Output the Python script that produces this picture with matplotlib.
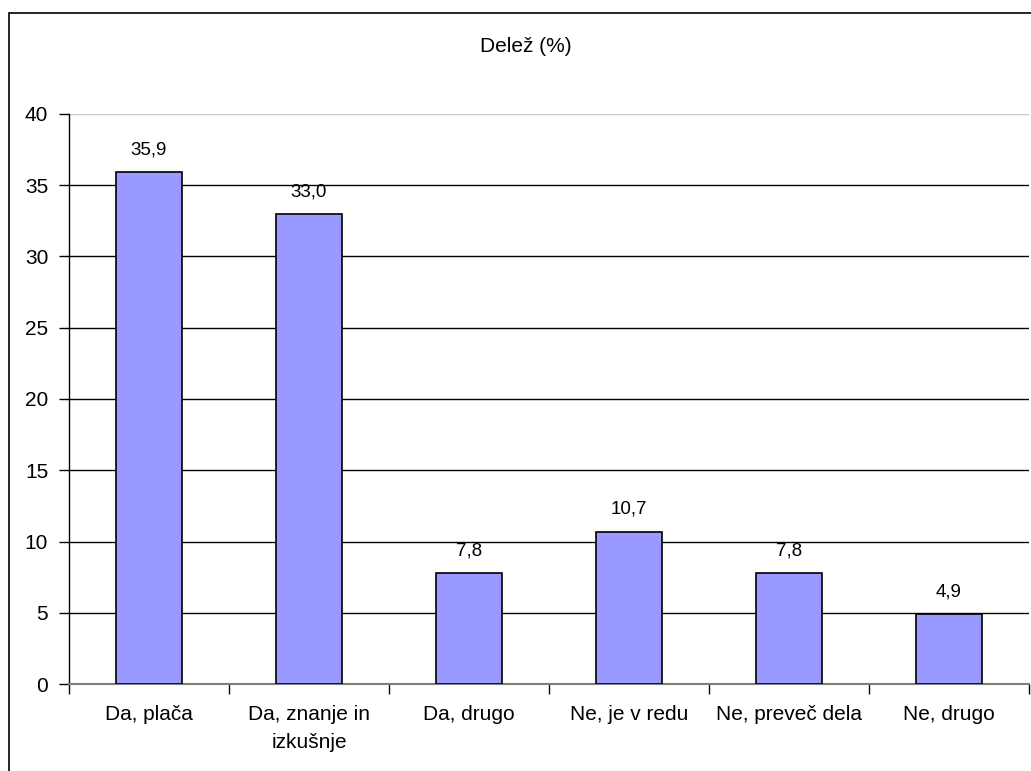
import matplotlib.pyplot as plt
from matplotlib.patches import Rectangle

plt.rcParams["font.family"] = ["Liberation Sans", "DejaVu Sans"]

categories = ["Da, plača", "Da, znanje in\nizkušnje", "Da, drugo",
              "Ne, je v redu", "Ne, preveč dela", "Ne, drugo"]
shares = [35.9, 33.0, 7.8, 10.7, 7.8, 4.9]
share_labels = ["35,9", "33,0", "7,8", "10,7", "7,8", "4,9"]

W, H = 1031, 771
fig = plt.figure(figsize=(W / 100, H / 100), dpi=100)

# outer chart frame, open past the right and bottom edges
fig.patches.append(Rectangle((9 / W, -0.1), 1.2, 1 - 13 / H + 0.1,
                             transform=fig.transFigure, fill=False,
                             edgecolor="black", linewidth=1.2))

ax = fig.add_axes([69 / W, 1 - 684 / H, 960 / W, 570 / H])

x = range(len(shares))
ax.bar(x, shares, width=0.41, color="#9999FF", edgecolor="black",
       linewidth=1.2, zorder=3)
for xi, v, s in zip(x, shares, share_labels):
    ax.text(xi, v + 0.95, s, ha="center", va="bottom", fontsize=13.5)

ax.set_xlim(-0.5, len(shares) - 0.5)
ax.set_ylim(0, 40)
ax.set_yticks(range(0, 41, 5))
ax.tick_params(axis="y", labelsize=15, length=7, width=1, pad=8)

# category ticks sit on the boundaries between bars
ax.set_xticks([i - 0.5 for i in range(len(shares) + 1)])
ax.set_xticklabels([])
ax.tick_params(axis="x", length=7, width=1, direction="out")
for xi, c in zip(x, categories):
    ax.text(xi, -1.45, c, ha="center", va="top", fontsize=15,
            linespacing=1.6)

for y in range(5, 40, 5):
    ax.axhline(y, color="black", linewidth=1, zorder=1)
ax.axhline(40, color="#c8c8c8", linewidth=1, zorder=1)

for side in ["top", "right"]:
    ax.spines[side].set_visible(False)
ax.spines["left"].set_linewidth(1)
ax.spines["bottom"].set_color("#808080")
ax.spines["bottom"].set_linewidth(1.5)

fig.text(526 / W, 1 - 47 / H, "Delež (%)", ha="center", va="center",
         fontsize=15)

fig.savefig("out.png", dpi=100)
